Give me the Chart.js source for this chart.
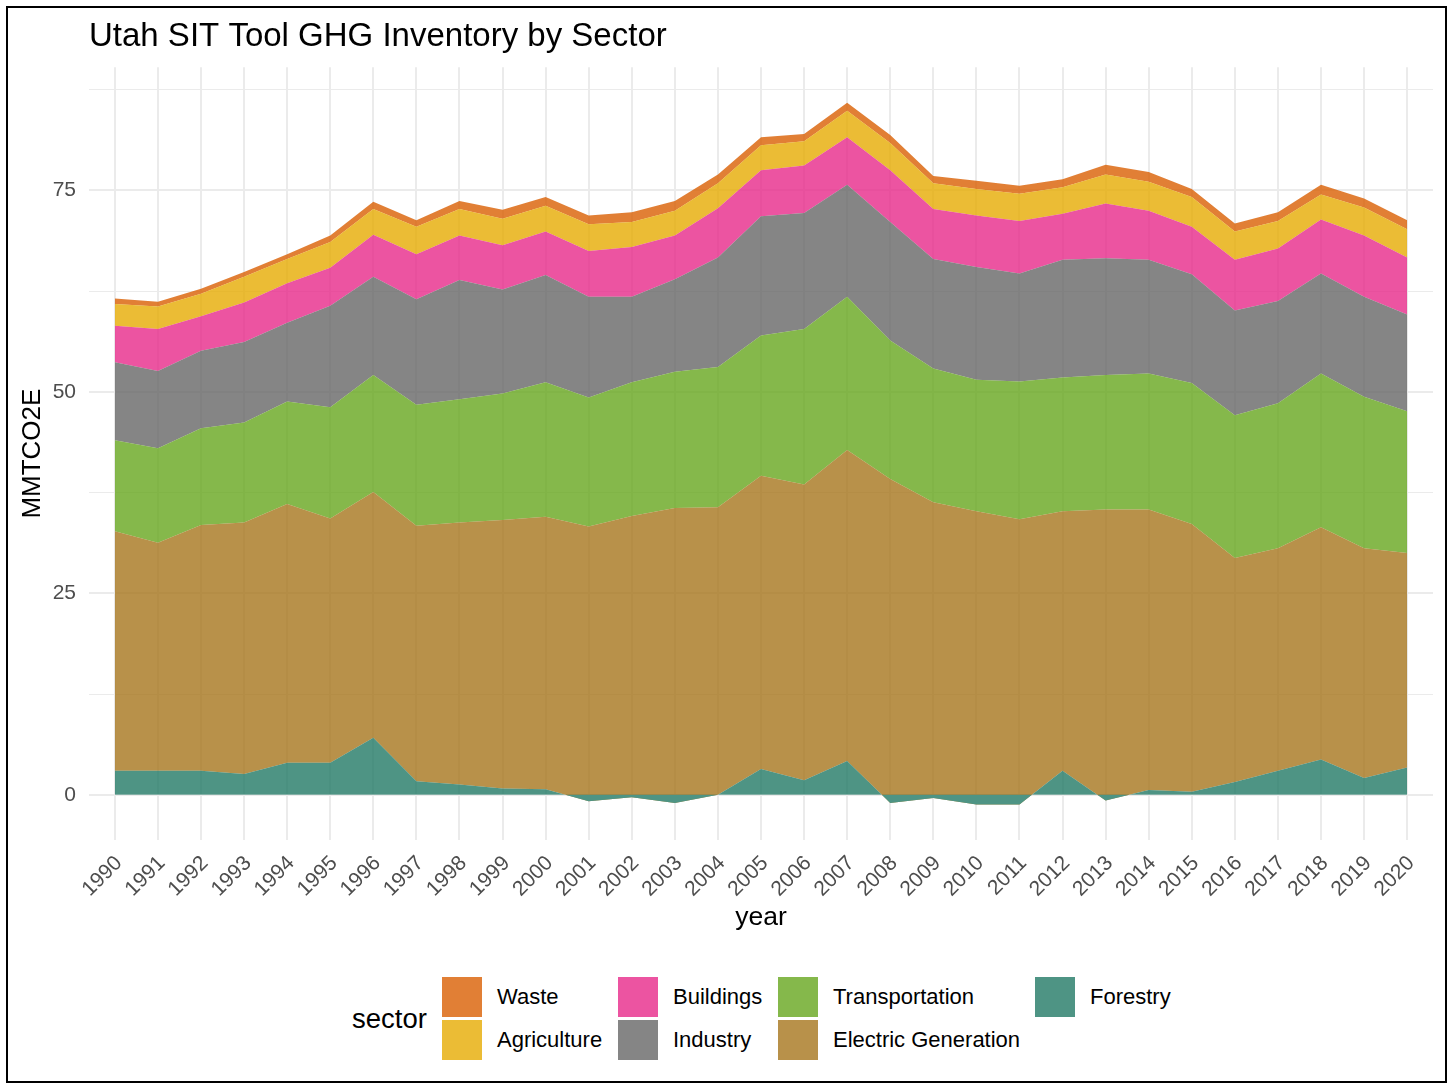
<!DOCTYPE html>
<html lang="en">
<head>
  <meta charset="UTF-8">
  <title>Utah SIT Tool GHG Inventory by Sector</title>
  <script src="https://cdn.jsdelivr.net/npm/chart.js"></script>
  <style>
    body { margin: 0; background: #fff; font-family: "Liberation Sans", Arial, sans-serif; }
    #frame { position: absolute; left: 6px; top: 6px; width: 1441px; height: 1077px;
             border: 2px solid #000; box-sizing: border-box; pointer-events: none; }
    #chartCanvas { position: absolute; left: 0; top: 0; }
    .legend-title { position: absolute; left: 352px; top: 1003px; font-size: 27.5px; line-height: 32px; color: #000; }
    .key { position: absolute; width: 40px; height: 40px; }
    .key-label { position: absolute; font-size: 22px; line-height: 40px; color: #000; white-space: nowrap; }
  </style>
</head>
<body>
  <canvas id="chartCanvas" width="1454" height="950"></canvas>
  <div id="legend"></div>
  <div id="frame"></div>
  <script>
    const years = [1990, 1991, 1992, 1993, 1994, 1995, 1996, 1997, 1998, 1999, 2000,
                   2001, 2002, 2003, 2004, 2005, 2006, 2007, 2008, 2009, 2010,
                   2011, 2012, 2013, 2014, 2015, 2016, 2017, 2018, 2019, 2020];

    // MMTCO2E by sector
    const forestry = [3.0, 3.0, 3.0, 2.6, 4.0, 4.0, 7.1, 1.7, 1.3, 0.8, 0.7,
                      -0.8, -0.3, -1.0, 0.0, 3.2, 1.8, 4.2, -1.0, -0.4, -1.2,
                      -1.2, 3.0, -0.7, 0.6, 0.4, 1.6, 3.0, 4.4, 2.1, 3.4];
    const electricGeneration = [29.7, 28.3, 30.5, 31.2, 32.1, 30.3, 30.5, 31.7, 32.5, 33.3, 33.8,
                                33.3, 34.6, 35.6, 35.7, 36.4, 36.7, 38.6, 39.2, 36.3, 35.2,
                                34.2, 32.2, 35.4, 34.8, 33.2, 27.8, 27.6, 28.8, 28.5, 26.6];
    const transportation = [11.3, 11.7, 12.0, 12.4, 12.7, 13.8, 14.5, 15.0, 15.3, 15.7, 16.7,
                            16.0, 16.6, 16.9, 17.4, 17.4, 19.3, 19.0, 17.2, 16.6, 16.3,
                            17.1, 16.6, 16.7, 16.9, 17.5, 17.7, 18.0, 19.1, 18.8, 17.6];
    const industry = [9.7, 9.6, 9.6, 10.0, 9.8, 12.6, 12.2, 13.1, 14.8, 12.9, 13.3,
                      12.5, 10.6, 11.5, 13.6, 14.8, 14.4, 13.9, 14.7, 13.6, 14.0,
                      13.4, 14.6, 14.5, 14.1, 13.5, 13.0, 12.7, 12.4, 12.4, 12.0];
    const buildings = [4.5, 5.2, 4.3, 4.9, 4.9, 4.7, 5.2, 5.6, 5.5, 5.5, 5.4,
                       5.7, 6.2, 5.4, 6.1, 5.7, 5.9, 5.9, 6.4, 6.2, 6.4,
                       6.5, 5.7, 6.8, 6.1, 5.9, 6.3, 6.5, 6.7, 7.6, 7.1];
    const agriculture = [2.7, 2.8, 2.8, 3.2, 3.0, 3.2, 3.2, 3.4, 3.3, 3.3, 3.2,
                         3.3, 3.1, 3.1, 3.1, 3.1, 3.0, 3.3, 3.4, 3.2, 3.3,
                         3.4, 3.3, 3.6, 3.6, 3.7, 3.5, 3.4, 3.1, 3.5, 3.5];
    const waste = [0.7, 0.6, 0.6, 0.6, 0.6, 0.8, 0.9, 0.8, 1.0, 1.1, 1.1,
                   1.1, 1.2, 1.2, 1.1, 1.0, 0.9, 1.0, 1.0, 0.9, 1.0,
                   1.0, 1.0, 1.2, 1.2, 1.0, 1.0, 1.1, 1.2, 1.1, 1.1];

    // stacking order, bottom to top
    const sectors = ['Forestry', 'Electric Generation', 'Transportation', 'Industry',
                     'Buildings', 'Agriculture', 'Waste'];
    const seriesBySector = {
      'Forestry': forestry,
      'Electric Generation': electricGeneration,
      'Transportation': transportation,
      'Industry': industry,
      'Buildings': buildings,
      'Agriculture': agriculture,
      'Waste': waste
    };
    const sectorColors = {
      'Waste': 'rgba(217, 95, 2, 0.8)',
      'Agriculture': 'rgba(230, 171, 2, 0.8)',
      'Buildings': 'rgba(231, 41, 138, 0.8)',
      'Industry': 'rgba(102, 102, 102, 0.8)',
      'Transportation': 'rgba(102, 166, 30, 0.8)',
      'Electric Generation': 'rgba(166, 118, 29, 0.8)',
      'Forestry': 'rgba(34, 121, 101, 0.8)'
    };
    // legend is laid out column by column, like the original
    const legendColumns = [['Waste', 'Agriculture'], ['Buildings', 'Industry'],
                           ['Transportation', 'Electric Generation'], ['Forestry']];

    const FONT = '"Liberation Sans", Arial, sans-serif';

    const datasets = sectors.map((name, i) => ({
      label: name,
      data: years.map((yr, j) => ({ x: yr, y: seriesBySector[name][j] })),
      backgroundColor: sectorColors[name],
      borderColor: 'transparent',
      borderWidth: 0,
      pointRadius: 0,
      pointHoverRadius: 0,
      tension: 0,
      // negative forestry sits under the Electric Generation fill, so paint it solid
      fill: i === 0
        ? { target: 'origin', above: sectorColors[name], below: '#4E9484' }
        : '-1'
    }));

    const chart = new Chart(document.getElementById('chartCanvas'), {
      type: 'line',
      data: { datasets: datasets },
      options: {
        responsive: false,
        animation: false,
        devicePixelRatio: 1,
        layout: { padding: { left: 8, right: 21, top: 0, bottom: 10 } },
        plugins: {
          legend: { display: false },
          tooltip: { enabled: false },
          title: {
            display: true,
            text: 'Utah SIT Tool GHG Inventory by Sector',
            align: 'start',
            fullSize: false,
            color: '#000',
            font: { family: FONT, size: 33, weight: 'normal' },
            padding: { top: 17, bottom: 10.6 }
          }
        },
        scales: {
          x: {
            type: 'linear',
            min: 1989.4,
            max: 2020.6,
            afterFit: (scale) => { scale.height = 100; },
            border: { display: false },
            grid: { color: '#EBEBEB', lineWidth: 2, drawTicks: false },
            ticks: {
              stepSize: 1,
              includeBounds: false,
              autoSkip: false,
              minRotation: 45,
              maxRotation: 45,
              padding: 11,
              labelOffset: 4,
              color: '#4D4D4D',
              font: { family: FONT, size: 21 },
              callback: (v) => String(v)
            },
            title: {
              display: true,
              text: 'year',
              color: '#000',
              font: { family: FONT, size: 26.5 },
              padding: { top: 0, bottom: 6 }
            }
          },
          y: {
            stacked: true,
            min: -5.6,
            max: 90.3,
            afterFit: (scale) => { scale.width = 81; },
            border: { display: false },
            grid: {
              color: '#EBEBEB',
              drawTicks: false,
              lineWidth: (ctx) => (ctx.tick && ctx.tick.value % 25 === 0 ? 2 : 1)
            },
            ticks: {
              stepSize: 12.5,
              includeBounds: false,
              padding: 13,
              color: '#4D4D4D',
              font: { family: FONT, size: 21 },
              callback: (v) => (v % 25 === 0 ? String(v) : '')
            },
            title: {
              display: true,
              text: 'MMTCO2E',
              color: '#000',
              font: { family: FONT, size: 26 },
              padding: { top: 9, bottom: 0 }
            }
          }
        }
      }
    });

    // html legend
    const legend = document.getElementById('legend');
    const legendTitle = document.createElement('div');
    legendTitle.className = 'legend-title';
    legendTitle.textContent = 'sector';
    legend.appendChild(legendTitle);

    const colLeft = [442, 618, 778, 1035];
    legendColumns.forEach((col, c) => {
      col.forEach((name, r) => {
        const top = 977 + r * 43;
        const key = document.createElement('div');
        key.className = 'key';
        key.style.left = colLeft[c] + 'px';
        key.style.top = top + 'px';
        key.style.background = sectorColors[name];
        legend.appendChild(key);

        const label = document.createElement('div');
        label.className = 'key-label';
        label.style.left = (colLeft[c] + 55) + 'px';
        label.style.top = top + 'px';
        label.textContent = name;
        legend.appendChild(label);
      });
    });
  </script>
</body>
</html>
